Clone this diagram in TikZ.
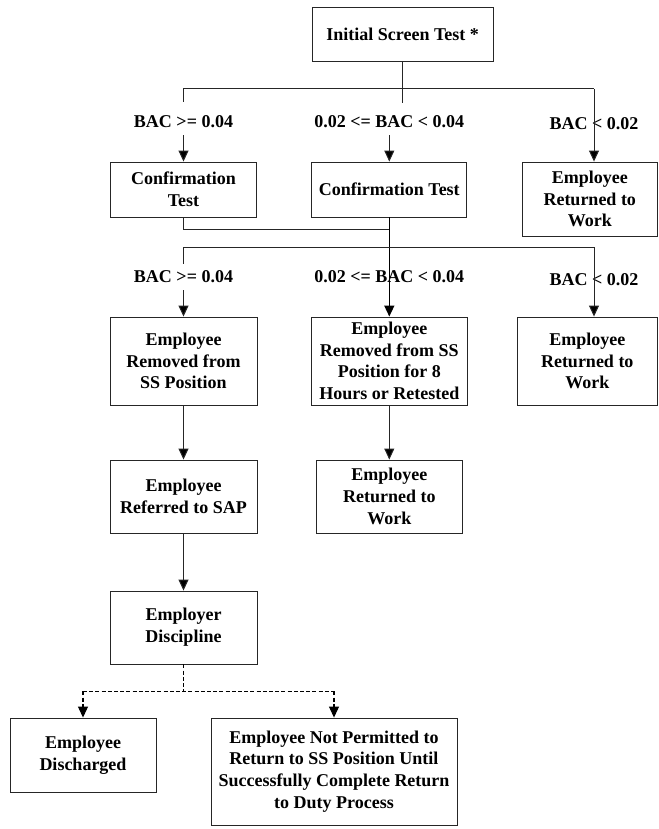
\documentclass[tikz,border=0pt]{standalone}
\usepackage{fontspec}
\setmainfont{Liberation Serif}
\usetikzlibrary{arrows.meta}
\begin{document}
\begin{tikzpicture}[x=1pt,y=-1pt,
  box/.style={draw=black!85, line width=0.9pt, align=center, inner sep=0pt,
    font=\fontsize{18}{21.7}\selectfont\bfseries},
  lbl/.style={inner sep=0pt, font=\fontsize{18}{21.7}\selectfont\bfseries},
  wire/.style={draw=black!85, line width=1pt},
  mainwire/.style={draw=black, line width=1.5pt},
  tip/.style={-{Triangle[width=10pt,length=11pt,fill=black]}},
  dwire/.style={draw=black, line width=1.1pt, dash pattern=on 4pt off 2.2pt}]
\useasboundingbox (0,0) rectangle (658,829);

% boxes
\node[box, minimum width=181pt, minimum height=54pt] (top) at (402.7,34) {Initial Screen Test *};

\node[box, minimum width=146pt, minimum height=55pt] (c1l) at (183.5,189.5) {Confirmation\\Test};
\node[box, minimum width=155pt, minimum height=55pt] (c1m) at (389.3,189.5) {Confirmation Test};
\node[box, minimum width=135.5pt, minimum height=74pt] (r1r) at (589.75,199) {Employee\\Returned to\\Work};

\node[box, minimum width=147pt, minimum height=88pt] (r2l) at (183.5,361) {Employee\\Removed from\\SS Position};
\node[box, minimum width=156pt, minimum height=88pt] (r2m) at (389.3,361) {Employee\\Removed from SS\\Position for 8\\Hours or Retested};
\node[box, minimum width=140.5pt, minimum height=88pt] (r2r) at (587.25,361) {Employee\\Returned to\\Work};

\node[box, minimum width=147pt, minimum height=73pt] (r3l) at (183.5,496.5) {Employee\\Referred to SAP};
\node[box, minimum width=146pt, minimum height=73pt] (r3m) at (389.3,496.5) {Employee\\Returned to\\Work};

\node[box, minimum width=147pt, minimum height=73pt] (disc) at (183.5,627.5) {Employer\\Discipline};

\node[box, minimum width=146pt, minimum height=74pt] (dis) at (83,755) {Employee\\Discharged};
\node[box, minimum width=246pt, minimum height=107pt] (notp) at (334,771.5) {Employee Not Permitted to\\Return to SS Position Until\\Successfully Complete Return\\to Duty Process};

% branch labels
\node[lbl] (l1a) at (183.5,122) {BAC >= 0.04};
\node[lbl] (l1b) at (389.3,122) {0.02 <= BAC < 0.04};
\node[lbl] (l1c) at (594,124) {BAC < 0.02};
\node[lbl] (l2a) at (183.5,277) {BAC >= 0.04};
\node[lbl] (l2b) at (389.3,277) {0.02 <= BAC < 0.04};
\node[lbl] (l2c) at (594,280) {BAC < 0.02};

% first split
\coordinate (h1l) at (183.5,89);
\coordinate (h1r) at (594,89);
\draw[wire] (top.south) -- ++(0,42);
\draw[wire] ([yshift=14pt]l1a.north) -- (h1l) -- (h1r);
\draw[wire, tip] (h1r) -- (h1r |- r1r.north);
\draw[wire, tip] ([yshift=-7pt]l1a.south) -- (c1l.north);
\draw[wire, tip] ([yshift=-7pt]l1b.south) -- (c1m.north);

% second split
\coordinate (m1) at (389.3,229);
\coordinate (h2l) at (183.5,247);
\coordinate (h2r) at (594,247);
\draw[wire] (c1l.south) |- (m1);
\draw[mainwire, tip] (c1m.south) -- (r2m.north);
\draw[wire] ([yshift=7pt]l2a.north) -- (h2l) -- (h2r);
\draw[wire, tip] (h2r) -- (h2r |- r2r.north);
\draw[wire, tip] ([yshift=-7pt]l2a.south) -- (r2l.north);

% follow-up steps
\draw[wire, tip] (r2l.south) -- (r3l.north);
\draw[wire, tip] (r2m.south) -- (r3m.north);
\draw[wire, tip] (r3l.south) -- (disc.north);

% possible outcomes of discipline
\draw[dwire] (disc.south) -- ++(0,27) coordinate (dj);
\draw[dwire] (dis.north |- dj) -- (notp.north |- dj);
\draw[dwire, tip] (dis.north |- dj) -- (dis.north);
\draw[dwire, tip] (notp.north |- dj) -- (notp.north);
\end{tikzpicture}
\end{document}
